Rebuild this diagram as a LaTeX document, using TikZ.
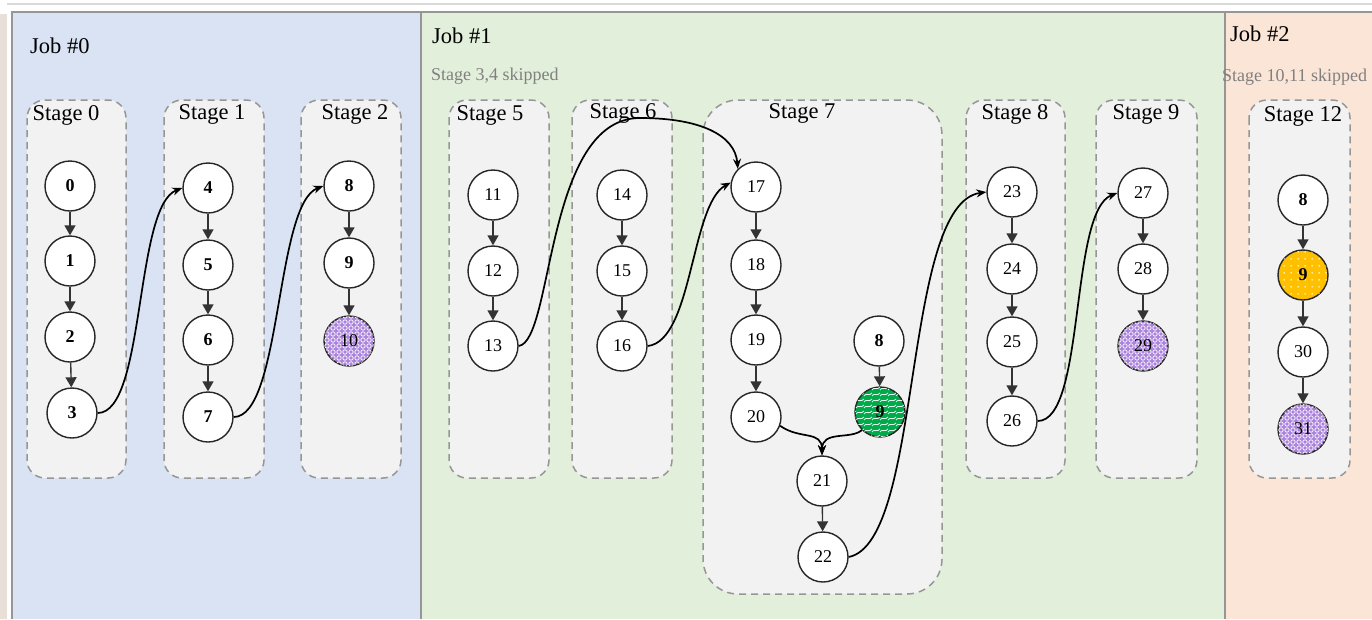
\documentclass[tikz,border=0pt]{standalone}
\usepackage{fontspec}
\setmainfont{Liberation Serif}
\usetikzlibrary{arrows.meta,patterns}

% fill textures for the highlighted tasks
\pgfdeclarepatternformonly{meshgrid}{\pgfpoint{-1pt}{-1pt}}{\pgfpoint{7pt}{7pt}}{\pgfpoint{6pt}{6pt}}{%
  \pgfsetlinewidth{0.8pt}%
  \pgfpathcircle{\pgfpoint{3pt}{3pt}}{2.2pt}%
  \pgfusepath{stroke}}
\pgfdeclarepatternformonly{dotgrid}{\pgfpoint{0pt}{0pt}}{\pgfpoint{7pt}{7pt}}{\pgfpoint{7pt}{7pt}}{%
  \pgfpathcircle{\pgfpoint{3.5pt}{3.5pt}}{0.9pt}%
  \pgfusepath{fill}}
\pgfdeclarepatternformonly{wavelines}{\pgfpoint{-1pt}{-1pt}}{\pgfpoint{9pt}{7pt}}{\pgfpoint{8pt}{6pt}}{%
  \pgfsetlinewidth{0.8pt}%
  \pgfpathmoveto{\pgfpoint{0pt}{1pt}}%
  \pgfpathcurveto{\pgfpoint{2pt}{5pt}}{\pgfpoint{5pt}{0pt}}{\pgfpoint{8pt}{4pt}}%
  \pgfusepath{stroke}}

\definecolor{jobblue}{RGB}{218,227,243}
\definecolor{jobgreen}{RGB}{226,239,218}
\definecolor{jobpeach}{RGB}{251,229,214}
\definecolor{stagefill}{RGB}{242,242,242}
\definecolor{stageline}{RGB}{150,150,150}
\definecolor{panelline}{RGB}{150,150,150}
\definecolor{skipgray}{RGB}{128,128,128}
\definecolor{taskpurple}{RGB}{170,130,220}
\definecolor{taskgreen}{RGB}{0,170,75}
\definecolor{taskyellow}{RGB}{255,192,0}
\definecolor{edgebeige}{RGB}{232,224,216}

\begin{document}
\begin{tikzpicture}[x=1pt,y=-1pt,
  task/.style={circle,draw=black!85,line width=1.4pt,fill=white,minimum size=50pt,inner sep=0pt,
    font=\fontsize{18}{20}\selectfont},
  boldtask/.style={task,font=\fontsize{18}{20}\selectfont\bfseries},
  purpletask/.style={fill=taskpurple,postaction={pattern=meshgrid,pattern color=white!90!taskpurple}},
  greentask/.style={fill=taskgreen,postaction={pattern=wavelines,pattern color=white!90!taskgreen}},
  yellowtask/.style={fill=taskyellow,postaction={pattern=dotgrid,pattern color=white!90!taskyellow}},
  stagebox/.style={draw=stageline,fill=stagefill,line width=1.5pt,dash pattern=on 7pt off 5pt,rounded corners=18pt},
  stagelabel/.style={font=\fontsize{22.5}{25}\selectfont,inner sep=0pt},
  joblabel/.style={font=\fontsize{22.5}{25}\selectfont,anchor=west,inner sep=0pt},
  skiplabel/.style={font=\fontsize{18}{20}\selectfont,text=skipgray,anchor=west,inner sep=0pt},
  link/.style={draw=black!80,line width=1.4pt,-{Triangle[length=10pt,width=11pt]}},
  flow/.style={draw=black,line width=1.7pt,-{Stealth[length=10pt,width=8pt]}}
]
\useasboundingbox (0,0) rectangle (1372,619);

% frame and job panels
\fill[white] (0,0) rectangle (1372,619);
\fill[edgebeige] (0,14) rectangle (7,619);
\draw[black!15,line width=2pt] (7,4) -- (1372,4);
\fill[jobblue] (13,13) rectangle (421,619);
\fill[jobgreen] (421,13) rectangle (1225,619);
\fill[jobpeach] (1225,13) rectangle (1372,619);
\draw[panelline,line width=2pt] (12,619) -- (12,12) -- (1372,12);
\draw[panelline,line width=2.5pt] (421,12) -- (421,619);
\draw[panelline,line width=2.5pt] (1225,12) -- (1225,619);

\node[joblabel] (job0) at (30,46) {Job \#0};
\node[joblabel] (job1) at (432,36) {Job \#1};
\node[joblabel] (job2) at (1230,34) {Job \#2};
\node[skiplabel] (skip1) at (431,76) {Stage 3,4 skipped};
\node[skiplabel] (skip2) at (1222,77) {Stage 10,11 skipped};

% stage containers
\draw[stagebox] (27,100) rectangle (126,478);
\draw[stagebox] (164,100) rectangle (264,478);
\draw[stagebox] (301,100) rectangle (401,478);
\draw[stagebox] (449,100) rectangle (549,478);
\draw[stagebox] (572,100) rectangle (672,478);
\draw[stagebox,rounded corners=35pt] (703,100) rectangle (942,594);
\draw[stagebox] (966,100) rectangle (1065,478);
\draw[stagebox] (1096,100) rectangle (1197,478);
\draw[stagebox] (1249,100) rectangle (1350,478);

\node[stagelabel] (s0) at (66,115) {Stage 0};
\node[stagelabel] (s1) at (212,114) {Stage 1};
\node[stagelabel] (s2) at (355,114) {Stage 2};
\node[stagelabel] (s5) at (490,115) {Stage 5};
\node[stagelabel] (s6) at (623,113) {Stage 6};
\node[stagelabel] (s7) at (802,113) {Stage 7};
\node[stagelabel] (s8) at (1015,114) {Stage 8};
\node[stagelabel] (s9) at (1146,114) {Stage 9};
\node[stagelabel] (s12) at (1303,116) {Stage 12};

% Job #0
\node[boldtask] (a0) at (70,186) {0};
\node[boldtask] (a1) at (70,261) {1};
\node[boldtask] (a2) at (70,337) {2};
\node[boldtask] (a3) at (72,413) {3};
\node[boldtask] (a4) at (208,188) {4};
\node[boldtask] (a5) at (208,265) {5};
\node[boldtask] (a6) at (208,340) {6};
\node[boldtask] (a7) at (208,417) {7};
\node[boldtask] (a8) at (349,186) {8};
\node[boldtask] (a9) at (349,263) {9};
\node[task,purpletask] (a10) at (349,341) {10};

% Job #1
\node[task] (b11) at (493,195) {11};
\node[task] (b12) at (493,271) {12};
\node[task] (b13) at (493,346) {13};
\node[task] (b14) at (622,195) {14};
\node[task] (b15) at (622,271) {15};
\node[task] (b16) at (622,346) {16};
\node[task] (b17) at (756,187) {17};
\node[task] (b18) at (756,265) {18};
\node[task] (b19) at (756,340) {19};
\node[task] (b20) at (756,417) {20};
\node[boldtask] (b8) at (879,341) {8};
\node[boldtask,greentask] (b9) at (880,412) {9};
\node[task] (b21) at (822,481) {21};
\node[task] (b22) at (823,557) {22};
\node[task] (b23) at (1012,192) {23};
\node[task] (b24) at (1012,269) {24};
\node[task] (b25) at (1012,342) {25};
\node[task] (b26) at (1012,421) {26};
\node[task] (b27) at (1143,193) {27};
\node[task] (b28) at (1143,269) {28};
\node[task,purpletask] (b29) at (1143,346) {29};

% Job #2
\node[boldtask] (c8) at (1303,200) {8};
\node[boldtask,yellowtask] (c9) at (1303,275) {9};
\node[task] (c30) at (1303,352) {30};
\node[task,purpletask] (c31) at (1303,429) {31};

% dependencies inside a stage
\foreach \u/\v in {a0/a1,a1/a2,a2/a3,a4/a5,a5/a6,a6/a7,a8/a9,a9/a10,
                   b11/b12,b12/b13,b14/b15,b15/b16,b17/b18,b18/b19,b19/b20,b8/b9,b21/b22,
                   b23/b24,b24/b25,b25/b26,b27/b28,b28/b29,
                   c8/c9,c9/c30,c30/c31}
  \draw[link] (\u) -- (\v);

% shuffle dependencies across stages
\draw[flow] (a3.east) .. controls +(48,0) and +(-48,18) .. (a4.west);
\draw[flow] (a7.east) .. controls +(48,0) and +(-48,18) .. (a8.west);
\draw[flow] (b13.east) .. controls +(35,-5) and (545,118) .. (640,118)
            .. controls (700,118) and (735,135) .. (b17.north west);
\draw[flow] (b16.east) .. controls +(45,-5) and +(-40,22) .. (b17.170);
\draw[flow] (b20.-20) .. controls (800,440) and (822,430) .. (b21.north);
\draw[flow] (b9.225) .. controls (850,440) and (822,430) .. (b21.north);
\draw[flow] (b22.east) .. controls +(75,-15) and +(-85,12) .. (b23.west);
\draw[flow] (b26.east) .. controls +(48,0) and +(-48,18) .. (b27.west);
\end{tikzpicture}
\end{document}
